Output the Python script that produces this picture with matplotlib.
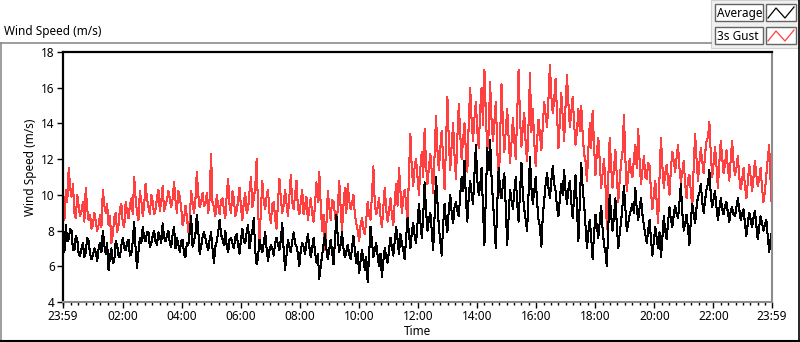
import numpy as np
import matplotlib
matplotlib.use("Agg")
import matplotlib.pyplot as plt
from matplotlib.lines import Line2D
from matplotlib.patches import Rectangle
from matplotlib.ticker import FixedLocator

plt.rcParams['font.family'] = ['Noto Sans', 'DejaVu Sans']

# ---- data (m/s), 23:59 -> 23:59 next day ----
# main readings (evenly spaced)
gust_main = [
    9.3, 10.3, 11.5, 9.9, 9.0, 10.0, 8.8, 9.6, 10.4, 8.6,
    8.1, 9.0, 8.0, 8.9, 10.3, 9.0, 8.3, 7.3, 8.7, 7.9,
    9.2, 8.4, 9.6, 8.7, 9.8, 11.0, 9.0, 10.2, 8.8, 10.6,
    9.3, 10.0, 8.9, 9.8, 9.1, 10.5, 9.4, 10.2, 9.3, 10.7,
    9.0, 9.9, 8.3, 9.4, 7.9, 10.2, 9.0, 11.3, 9.3, 10.1,
    9.5, 9.0, 12.3, 9.3, 10.0, 8.9, 9.8, 8.7, 10.9, 9.0,
    9.8, 9.1, 10.4, 8.6, 10.1, 9.2, 11.0, 9.8, 12.0, 7.4,
    10.8, 9.2, 10.3, 8.4, 9.6, 8.1, 10.9, 9.0, 10.3, 8.8,
    11.1, 9.2, 10.8, 8.9, 10.3, 9.4, 8.6, 9.8, 8.5, 10.7,
    11.3, 8.0, 6.9, 10.2, 8.6, 9.6, 8.3, 10.8, 8.0, 10.4,
    10.6, 9.2, 10.0, 8.4, 7.4, 8.7, 7.8, 9.6, 8.6, 11.6,
    8.9, 9.8, 8.2, 10.4, 8.5, 9.8, 8.3, 10.6, 11.5, 9.0,
    10.3, 8.4, 13.4, 10.5, 12.0, 10.0, 12.4, 13.7, 10.6, 12.3,
    10.1, 14.4, 11.4, 13.6, 10.3, 15.5, 11.4, 14.0, 10.9, 15.1,
    12.0, 14.0, 11.3, 16.0, 13.0, 15.2, 12.6, 16.0, 17.0, 12.4,
    16.3, 13.0, 15.2, 10.0, 16.2, 12.4, 14.8, 11.8, 14.3, 12.0,
    17.0, 12.7, 14.6, 11.9, 16.8, 14.8, 11.6, 14.2, 12.5, 15.2,
    13.8, 17.3, 14.6, 16.5, 12.6, 15.7, 13.0, 16.7, 13.8, 15.5,
    12.8, 14.8, 15.0, 12.3, 10.8, 14.0, 14.7, 11.1, 13.2, 10.4,
    12.0, 8.1, 13.2, 10.4, 12.5, 9.6, 11.8, 14.5, 10.2, 12.0,
    11.0, 12.8, 13.7, 10.6, 12.2, 10.9, 11.6, 9.2, 10.8, 8.4,
    13.2, 10.4, 11.7, 10.0, 12.4, 11.3, 12.8, 10.7, 11.9, 9.8,
    11.1, 9.3, 13.4, 10.8, 12.6, 11.2, 13.0, 14.1, 11.0, 12.7,
    10.4, 13.0, 11.2, 12.5, 10.8, 13.0, 11.1, 12.2, 10.3, 11.5,
    9.8, 11.7, 10.2, 11.9, 10.5, 11.5, 9.6, 11.1, 12.8, 9.0,
]
# readings taken half-way between the main readings
gust_between = [
    8.6, 9.6, 10.4, 10.6, 8.7, 9.4, 9.1, 8.5, 9.2, 8.9,
    8.3, 8.5, 8.3, 8.2, 9.4, 9.5, 8.8, 7.8, 9.0, 8.3,
    9.5, 8.2, 9.1, 9.4, 8.9, 9.8, 8.6, 9.7, 9.4, 9.8,
    8.9, 9.6, 9.2, 10.3, 9.6, 9.1, 9.7, 9.8, 9.8, 9.7,
    10.2, 9.3, 8.6, 8.8, 8.6, 9.6, 9.7, 10.0, 9.6, 9.4,
    10.1, 9.8, 9.6, 8.8, 9.4, 9.7, 9.2, 10.0, 9.4, 10.2,
    8.8, 9.7, 9.3, 9.6, 9.0, 10.2, 9.3, 10.4, 9.2, 9.1,
    9.6, 9.9, 9.0, 9.5, 8.7, 9.6, 9.8, 9.4, 9.5, 9.9,
    9.6, 10.0, 9.3, 9.6, 8.9, 9.9, 9.2, 9.0, 9.4, 9.6,
    9.5, 8.9, 8.3, 9.3, 9.7, 8.9, 9.2, 9.3, 9.4, 9.0,
    9.7, 9.5, 8.9, 8.0, 8.3, 8.1, 8.6, 8.9, 10.0, 9.5,
    9.3, 8.8, 9.3, 9.2, 9.1, 8.9, 9.6, 9.4, 10.2, 9.8,
    9.5, 11.2, 11.4, 11.6, 11.0, 11.5, 11.0, 11.7, 11.5, 11.3,
    12.3, 12.5, 12.6, 11.9, 12.8, 13.0, 12.8, 12.2, 13.2, 13.4,
    13.1, 12.4, 14.1, 14.2, 14.3, 13.6, 14.7, 13.9, 14.6, 13.5,
    14.2, 14.1, 12.8, 13.1, 14.0, 13.6, 13.2, 12.9, 13.0, 14.5,
    14.3, 13.8, 12.8, 14.0, 13.5, 13.0, 13.0, 13.4, 13.9, 14.5,
    15.4, 15.5, 15.3, 14.6, 14.1, 14.4, 15.0, 15.1, 14.6, 14.0,
    13.6, 13.6, 13.4, 11.9, 12.5, 12.6, 12.8, 12.4, 11.9, 11.2,
    10.6, 10.9, 11.6, 11.5, 11.0, 10.8, 12.4, 12.0, 11.1, 11.3,
    12.0, 11.5, 11.9, 11.4, 11.0, 11.8, 10.2, 10.0, 9.6, 11.0,
    11.6, 11.2, 10.8, 11.5, 11.9, 12.1, 11.5, 11.3, 10.6, 10.9,
    10.2, 11.6, 12.0, 11.8, 11.9, 12.3, 13.2, 12.3, 11.8, 11.6,
    11.8, 12.1, 11.7, 11.5, 12.0, 11.8, 11.5, 11.0, 10.8, 10.5,
    10.7, 11.0, 11.0, 11.1, 10.9, 10.4, 10.2, 12.0, 10.8,
]

average_main = [
    7.2, 8.3, 7.5, 8.0, 6.9, 7.5, 6.6, 7.3, 6.8, 7.4,
    6.4, 7.0, 6.3, 7.3, 8.0, 6.7, 5.8, 7.0, 6.3, 7.2,
    6.5, 7.6, 6.9, 7.5, 6.7, 8.5, 5.9, 7.6, 8.2, 7.4,
    7.9, 7.3, 8.0, 7.2, 7.7, 8.4, 7.4, 8.0, 7.1, 8.2,
    7.6, 6.8, 7.5, 6.5, 7.2, 8.8, 7.4, 8.9, 6.7, 7.6,
    7.6, 6.9, 7.9, 6.2, 7.4, 8.6, 7.5, 8.0, 6.8, 7.6,
    7.0, 7.8, 6.7, 8.1, 7.3, 8.3, 7.6, 8.7, 6.1, 7.5,
    6.8, 7.9, 6.3, 7.2, 6.6, 7.6, 6.9, 8.4, 5.8, 7.5,
    6.8, 7.9, 7.1, 6.0, 7.3, 6.7, 7.8, 6.5, 7.6, 6.2,
    5.3, 6.6, 7.8, 6.4, 7.5, 6.1, 8.9, 6.8, 7.9, 6.5,
    7.2, 6.4, 7.7, 6.2, 5.6, 6.9, 5.8, 5.1, 8.2, 6.5,
    7.3, 6.0, 5.4, 7.0, 6.2, 7.6, 6.6, 8.2, 6.7, 7.3,
    6.4, 8.7, 7.0, 8.4, 7.3, 9.5, 7.6, 10.7, 8.0, 9.0,
    6.9, 11.0, 8.2, 6.6, 9.5, 7.9, 10.0, 8.4, 9.6, 8.8,
    11.0, 11.9, 8.5, 10.8, 9.5, 12.8, 10.0, 11.5, 7.2, 12.6,
    13.1, 9.6, 7.0, 11.5, 9.8, 11.2, 7.2, 10.3, 9.2, 11.0,
    8.5, 11.8, 9.2, 8.0, 12.1, 9.5, 11.0, 8.6, 7.1, 9.7,
    11.2, 9.8, 11.6, 10.2, 8.8, 10.6, 11.4, 9.5, 10.8, 8.7,
    11.1, 7.4, 11.8, 9.5, 7.0, 8.6, 6.4, 8.9, 7.6, 9.4,
    7.2, 6.0, 10.0, 8.0, 9.8, 7.0, 8.5, 10.5, 8.0, 8.9,
    9.5, 10.4, 8.6, 9.8, 8.3, 7.3, 8.6, 6.6, 8.2, 7.0,
    6.5, 8.8, 7.5, 9.3, 8.2, 9.4, 8.7, 10.6, 8.0, 8.9,
    7.2, 9.5, 8.4, 9.9, 10.6, 9.0, 10.3, 11.4, 9.3, 10.2,
    8.6, 9.8, 8.9, 9.6, 8.5, 9.3, 8.8, 9.8, 8.6, 9.2,
    7.7, 9.0, 8.2, 9.1, 7.5, 8.8, 8.0, 8.6, 6.8, 8.0,
]
average_between = [
    6.8, 7.4, 8.1, 6.9, 7.7, 6.7, 7.0, 6.5, 7.6, 6.7,
    6.6, 6.8, 7.0, 6.8, 7.2, 7.3, 6.5, 6.2, 7.4, 6.6,
    7.2, 7.0, 7.3, 6.6, 7.4, 7.0, 6.8, 7.3, 7.6, 7.9,
    7.1, 7.7, 7.4, 7.9, 7.3, 7.6, 7.7, 7.3, 7.8, 7.0,
    7.2, 7.4, 6.7, 7.3, 7.9, 7.1, 7.8, 8.0, 7.1, 7.9,
    7.2, 7.5, 7.0, 7.1, 7.9, 7.8, 7.2, 7.1, 7.5, 7.3,
    7.6, 7.2, 7.5, 7.4, 7.9, 7.0, 8.0, 6.9, 6.5, 7.1,
    7.3, 7.0, 6.9, 7.0, 7.3, 7.2, 7.5, 6.9, 6.6, 7.1,
    7.4, 7.3, 6.7, 6.9, 7.1, 7.3, 7.1, 7.0, 6.8, 6.7,
    6.0, 7.2, 7.0, 6.9, 6.8, 7.4, 7.6, 7.2, 7.0, 6.8,
    6.7, 7.0, 6.9, 6.8, 6.3, 6.4, 6.5, 6.7, 7.4, 6.9,
    6.6, 6.7, 6.3, 6.5, 6.9, 7.1, 7.4, 7.5, 7.8, 6.9,
    7.6, 7.8, 7.9, 7.7, 8.4, 8.5, 8.8, 9.1, 8.6, 8.0,
    8.8, 9.6, 7.4, 8.3, 8.5, 9.2, 9.0, 9.3, 9.1, 10.0,
    10.2, 9.8, 9.9, 10.1, 11.2, 10.8, 10.5, 9.2, 10.0, 11.4,
    11.0, 8.4, 9.4, 10.3, 10.6, 9.3, 8.8, 9.7, 10.2, 9.6,
    10.1, 10.0, 8.6, 10.0, 10.4, 10.2, 9.6, 8.2, 8.8, 10.6,
    10.4, 10.8, 10.6, 9.3, 9.8, 10.0, 10.2, 10.3, 9.6, 9.9,
    9.2, 9.6, 10.4, 8.3, 7.9, 7.6, 7.8, 8.2, 8.5, 8.1,
    6.8, 8.2, 8.9, 8.8, 8.3, 7.8, 9.4, 9.2, 8.4, 9.2,
    9.0, 9.2, 9.3, 8.9, 7.8, 8.0, 7.5, 7.4, 7.6, 7.9,
    7.6, 8.0, 8.5, 8.6, 8.9, 8.9, 9.6, 9.0, 8.4, 8.1,
    8.6, 8.9, 9.3, 10.1, 9.6, 9.7, 10.6, 10.0, 9.8, 9.3,
    9.2, 9.2, 9.4, 9.0, 9.1, 8.9, 9.3, 9.2, 8.9, 8.4,
    8.4, 8.6, 8.7, 8.3, 8.2, 8.4, 8.3, 7.7, 7.5,
]

span_minutes = 1440  # 23:59 -> 23:59
time_labels = ["23:59", "02:00", "04:00", "06:00", "08:00", "10:00", "12:00",
               "14:00", "16:00", "18:00", "20:00", "22:00", "23:59"]
series_names = ["Average", "3s Gust"]
y_ticks = [4, 6, 8, 10, 12, 14, 16, 18]


def merge(main, between):
    main = np.asarray(main, float)
    between = np.asarray(between, float)
    t_main = np.linspace(0, span_minutes, len(main))
    t_btw = (t_main[:-1] + t_main[1:]) / 2
    t = np.empty(len(main) + len(between))
    v = np.empty_like(t)
    t[0::2], v[0::2] = t_main, main
    t[1::2], v[1::2] = t_btw, between
    return t, v


W, H = 800, 342
fig = plt.figure(figsize=(W / 100, H / 100), dpi=100, facecolor="white")


def fx(x):
    return x / W


def fy(y):
    return 1 - y / H


ax = fig.add_axes([fx(63), fy(302), fx(772) - fx(63), fy(52) - fy(302)])

tg, vg = merge(gust_main, gust_between)
ta, va = merge(average_main, average_between)
ax.plot(tg, vg, color="#ff4040", lw=0.75, antialiased=False)
ax.plot(ta, va, color="black", lw=0.75, antialiased=False)

ax.set_xlim(0, span_minutes)
ax.set_ylim(4, 18)

major_x = [0] + [121 + 120 * i for i in range(11)] + [span_minutes]
ax.xaxis.set_major_locator(FixedLocator(major_x))
ax.set_xticklabels(time_labels)
ax.xaxis.set_minor_locator(FixedLocator(list(range(1, span_minutes, 15))))
ax.set_yticks(y_ticks)
ax.set_yticklabels([str(v) for v in y_ticks])

ax.tick_params(axis="both", which="major", direction="out", length=4, width=1,
               color="black", labelsize=8.5, pad=2)
ax.tick_params(axis="x", which="minor", direction="out", length=2.5, width=1,
               color="black")

for side in ("top", "left"):
    ax.spines[side].set_color("black")
    ax.spines[side].set_linewidth(1.6)
for side in ("right", "bottom"):
    ax.spines[side].set_color("#8c8c8c")
    ax.spines[side].set_linewidth(1.5)

ax.set_ylabel("Wind Speed (m/s)", fontsize=8.5)
ax.yaxis.set_label_coords(-0.036, 0.54)
ax.set_xlabel("Time", fontsize=8.5, labelpad=1)

fig.text(fx(4), fy(32), "Wind Speed (m/s)", fontsize=8.5, va="center", ha="left")

fig.add_artist(Line2D([fx(0), fx(711)], [fy(42.5), fy(42.5)], color="#8c8c8c", lw=1.2))
fig.add_artist(Line2D([fx(0.5), fx(0.5)], [fy(42.5), fy(340)], color="#8c8c8c", lw=1.2))
fig.add_artist(Line2D([fx(0), fx(800)], [fy(340.5), fy(340.5)], color="black", lw=1.5))
fig.add_artist(Line2D([fx(799.3), fx(799.3)], [fy(0), fy(341)], color="black", lw=1.2))

fig.add_artist(Rectangle((fx(711), fy(48)), fx(88), fy(0) - fy(48),
                         facecolor="#f0f0f0", edgecolor="#d0d0d0", lw=0.8))
colors = ["black", "#ff4040"]
for i, (name, c) in enumerate(zip(series_names, colors)):
    top = 4 + 23 * i
    bot = top + 17
    fig.add_artist(Rectangle((fx(715), fy(bot)), fx(48), fy(top) - fy(bot),
                             facecolor="white", edgecolor="#646464", lw=1.0))
    fig.text(fx(717), fy((top + bot) / 2 + 0.5), name, fontsize=8.5,
             va="center", ha="left")
    fig.add_artist(Rectangle((fx(766), fy(bot)), fx(30), fy(top) - fy(bot),
                             facecolor="white", edgecolor="#646464", lw=1.0))
    zx = [768, 776, 785, 794]
    zy = [bot - 3, top + 4, bot - 3, top + 3]
    fig.add_artist(Line2D([fx(v) for v in zx], [fy(v) for v in zy], color=c, lw=0.9))

fig.savefig("out.png", dpi=100, facecolor="white")
